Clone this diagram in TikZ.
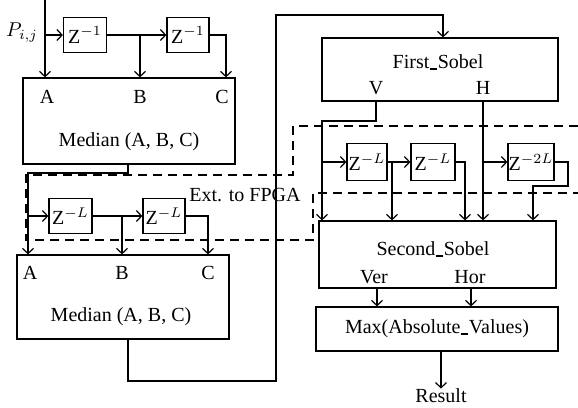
\documentclass[tikz,border=0pt]{standalone}
\usepackage{fontspec}
\setmainfont{Liberation Serif}
\usetikzlibrary{arrows.meta}
\newcommand\myuscore{\kern0.3pt\rule[-0.6pt]{3.6pt}{0.8pt}\kern0.3pt}
\begin{document}
\begin{tikzpicture}[x=0.5pt,y=-0.5pt,
  every node/.style={font=\fontsize{10}{12}\selectfont, inner sep=0pt},
  box/.style={draw, line width=0.6pt},
  lbl/.style={anchor=center},
  conn/.style={line width=0.6pt},
  arr/.style={conn, -{Straight Barb[length=2.6pt,width=5.5pt]}},
  ext/.style={line width=0.6pt, dash pattern=on 4.5pt off 3pt}]
\useasboundingbox (0,0) rectangle (578,407);

% ---------- boxes ----------
\node[box, minimum width=21.5pt, minimum height=17.5pt] (za1) at (85,35) {Z$^{-1}$};
\node[box, minimum width=21pt, minimum height=17.5pt] (za2) at (188,35) {Z$^{-1}$};
\node[box, minimum width=106pt, minimum height=43pt] (medA) at (129,121) {};
\node[box, minimum width=21.5pt, minimum height=17.5pt] (zb1) at (70.5,216) {Z$^{-L}$};
\node[box, minimum width=21pt, minimum height=17.5pt] (zb2) at (164,216) {Z$^{-L}$};
\node[box, minimum width=106pt, minimum height=42pt] (medB) at (123,297) {};
\node[box, minimum width=118pt, minimum height=31.5pt] (fs) at (440,69.5) {};
\node[box, minimum width=20pt, minimum height=18.5pt] (zc1) at (367,162) {Z$^{-L}$};
\node[box, minimum width=22pt, minimum height=18.5pt] (zc2) at (433,162) {Z$^{-L}$};
\node[box, minimum width=23pt, minimum height=18.5pt] (zc3) at (531,162) {Z$^{-2L}$};
\node[box, minimum width=118.5pt, minimum height=33.5pt] (ss) at (437.5,254.5) {};
\node[box, minimum width=121pt, minimum height=22pt] (mx) at (437,329) {Max(Absolute\myuscore Values)};

% ---------- labels ----------
\node[lbl] (pij) at (22,33) {$P_{i,j}$};
\node[lbl] (la1) at (47,97) {A};
\node[lbl] (lb1) at (140,97) {B};
\node[lbl] (lc1) at (222,97) {C};
\node[lbl] (lm1) at (129,142) {Median (A, B, C)};
\node[lbl] (la2) at (30,273) {A};
\node[lbl] (lb2) at (122,273) {B};
\node[lbl] (lc2) at (208,273) {C};
\node[lbl] (lm2) at (121,317) {Median (A, B, C)};
\node[lbl] (lfs) at (438,62) {First\myuscore Sobel};
\node[lbl] (lv) at (376,88) {V};
\node[lbl] (lh) at (483,88) {H};
\node[lbl] (lss) at (433,249) {Second\myuscore Sobel};
\node[lbl] (lver) at (374,277) {Ver};
\node[lbl] (lhor) at (470,277) {Hor};
\node[lbl] (res) at (441,396) {Result};
\node[lbl] (lext) at (245,195) {Ext. to FPGA};

% ---------- dashed region ----------
\draw[ext] (578,126) -- (293,126) -- (293,175) -- (26,175) -- (26,240)
  -- (313,240) -- (313,193) -- (578,193);

% ---------- coordinates ----------
\coordinate (in) at (45,0);
\coordinate (b1) at (140,35);
\coordinate (c1) at (226,35);
\coordinate (m1) at (128,173);
\coordinate (m2) at (28,173);
\coordinate (b2) at (122,216);
\coordinate (c2) at (208,216);
\coordinate (r1) at (128,381);
\coordinate (r2) at (276,381);
\coordinate (r3) at (276,15);
\coordinate (r4) at (443,15);
\coordinate (v1) at (376,121);
\coordinate (v2) at (322,121);
\coordinate (b3) at (392,162);
\coordinate (c3) at (465,162);
\coordinate (h1) at (483,162);
\coordinate (d1) at (568,162);
\coordinate (d2) at (568,186);
\coordinate (d3) at (533,186);
\coordinate (o1) at (377,0);
\coordinate (o2) at (471,0);
\coordinate (o3) at (441,0);

% ---------- connectors: first median stage ----------
\draw[arr] (in) -- (in |- medA.north);
\draw[arr] (in |- za1.west) -- (za1.west);
\draw[arr] (za1.east) -- (za2.west);
\draw[arr] (b1) -- (b1 |- medA.north);
\draw[arr] (za2.east) -- (c1) -- (c1 |- medA.north);

% ---------- second median stage ----------
\draw[arr] (m1 |- medA.south) -- (m1) -- (m2) -- (m2 |- medB.north);
\draw[arr] (m2 |- zb1.west) -- (zb1.west);
\draw[arr] (zb1.east) -- (zb2.west);
\draw[arr] (b2) -- (b2 |- medB.north);
\draw[arr] (zb2.east) -- (c2) -- (c2 |- medB.north);

% ---------- to first sobel ----------
\draw[arr] (r1 |- medB.south) -- (r1) -- (r2) -- (r3) -- (r4) -- (r4 |- fs.north);

% ---------- second sobel inputs ----------
\draw[arr] (v1 |- fs.south) -- (v1) -- (v2) -- (v2 |- ss.north);
\draw[arr] (v2 |- zc1.west) -- (zc1.west);
\draw[arr] (zc1.east) -- (zc2.west);
\draw[arr] (b3) -- (b3 |- ss.north);
\draw[arr] (zc2.east) -- (c3) -- (c3 |- ss.north);
\draw[arr] (h1 |- fs.south) -- (h1 |- ss.north);
\draw[arr] (h1) -- (zc3.west);
\draw[arr] (zc3.east) -- (d1) -- (d2) -- (d3) -- (d3 |- ss.north);

% ---------- output ----------
\draw[arr] (o1 |- ss.south) -- (o1 |- mx.north);
\draw[arr] (o2 |- ss.south) -- (o2 |- mx.north);
\draw[arr] (o3 |- mx.south) -- (res.north);
\end{tikzpicture}
\end{document}
